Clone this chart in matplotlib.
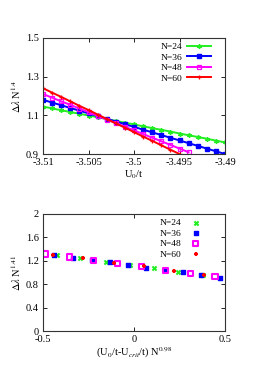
import matplotlib.pyplot as plt
import numpy as np

plt.rcParams['font.family'] = ['Liberation Serif', 'DejaVu Serif']
plt.rcParams['mathtext.fontset'] = 'stix'

# ---- top panel data: delta lambda * N^1.4 vs U0/t ----
u0 = [-3.510, -3.509, -3.508, -3.507, -3.506, -3.505, -3.504, -3.503, -3.502,
      -3.501, -3.500, -3.499, -3.498, -3.497, -3.496, -3.495, -3.494, -3.493,
      -3.492, -3.491, -3.490]
top_n24 = [1.145, 1.136, 1.126, 1.117, 1.108, 1.099, 1.090, 1.080, 1.071, 1.062,
           1.053, 1.043, 1.034, 1.025, 1.016, 1.006, 0.997, 0.988, 0.979, 0.969, 0.960]
top_n36 = [1.180, 1.166, 1.152, 1.138, 1.124, 1.110, 1.096, 1.082, 1.068, 1.054,
           1.040, 1.026, 1.012, 0.998, 0.984, 0.970, 0.956, 0.942, 0.928, 0.914, 0.900]
top_n48 = [1.210, 1.191, 1.172, 1.154, 1.135, 1.116, 1.097, 1.078, 1.060, 1.041,
           1.022, 1.003, 0.984, 0.966, 0.947, 0.928, 0.909]
top_n60 = [1.240, 1.217, 1.195, 1.172, 1.149, 1.127, 1.104, 1.081, 1.058, 1.036,
           1.013, 0.990, 0.968, 0.945, 0.922, 0.900]

# ---- bottom panel data: scaling collapse ----
x24 = [-0.425, -0.297, -0.154, -0.022, 0.110, 0.244, 0.381]
y24 = [1.29, 1.24, 1.18, 1.126, 1.07, 1.006, 0.949]
x36 = [-0.44, -0.335, -0.23, -0.13, -0.035, 0.065, 0.17, 0.27, 0.37, 0.47]
y36 = [1.29, 1.255, 1.215, 1.175, 1.13, 1.085, 1.04, 1.0, 0.955, 0.91]
x48 = [-0.485, -0.355, -0.223, -0.092, 0.042, 0.174, 0.31, 0.445]
y48 = [1.314, 1.263, 1.211, 1.149, 1.097, 1.04, 0.983, 0.926]
x60 = [-0.443, -0.278, -0.11, 0.055, 0.22, 0.385]
y60 = [1.297, 1.24, 1.166, 1.103, 1.023, 0.954]

labels = ['N=24', 'N=36', 'N=48', 'N=60']
colors = ['#22ee22', '#0000ff', '#ff00ff', '#ff0000']

fig = plt.figure(figsize=(2.66, 3.72), dpi=100)
ax1 = fig.add_axes([0.162, 0.586, 0.684, 0.312])
ax2 = fig.add_axes([0.162, 0.110, 0.684, 0.315])

fs = 7.5

# top
star = (6, 2, 0)
ax1.plot(u0, top_n24, color=colors[0], lw=1.4, marker=star, ms=3.2, mew=1.0, label=labels[0])
ax1.plot(u0[:len(top_n36)], top_n36, color=colors[1], lw=1.4, marker='s', ms=2.6, label=labels[1])
ax1.plot(u0[:len(top_n48)], top_n48, color=colors[2], lw=1.4, marker='s', ms=3.4,
         mfc='none', mew=0.9, label=labels[2])
ax1.plot(u0[:len(top_n60)], top_n60, color=colors[3], lw=1.4, marker='+', ms=3.0, mew=0.9, label=labels[3])
ax1.set_xlim(-3.51, -3.49)
ax1.set_ylim(0.9, 1.5)
ax1.set_xticks([-3.51, -3.505, -3.5, -3.495, -3.49])
ax1.set_xticklabels(['-3.51', '-3.505', '-3.5', '-3.495', '-3.49'])
ax1.set_yticks([0.9, 1.1, 1.3, 1.5])
ax1.set_xlabel(r'U$_0$/t', fontsize=fs, labelpad=1)
ax1.set_ylabel(r'$\Delta\lambda$ N$^{1.4}$', fontsize=fs, labelpad=2)
ax1.legend(loc='upper right', frameon=False, fontsize=6.8, markerfirst=False,
           handlelength=2.6, handletextpad=0.5, labelspacing=0.2,
           borderaxespad=0.3, borderpad=0.2, bbox_to_anchor=(0.95, 1.0))

# bottom
ax2.scatter(x24, y24, color=colors[0], marker='x', s=9, linewidths=1.5, label=labels[0])
ax2.scatter(x36, y36, color=colors[1], marker='s', s=10, label=labels[1])
ax2.scatter(x48, y48, facecolor='none', edgecolor=colors[2], marker='s', s=14,
            linewidths=1.5, label=labels[2])
ax2.scatter(x60, y60, color=colors[3], marker='+', s=12, linewidths=1.6, label=labels[3])
ax2.set_xlim(-0.5, 0.5)
ax2.set_ylim(0, 2)
ax2.set_xticks([-0.5, 0, 0.5])
ax2.set_xticklabels(['-0.5', '0', '0.5'])
ax2.set_yticks([0, 0.4, 0.8, 1.2, 1.6, 2])
ax2.set_yticklabels(['0', '0.4', '0.8', '1.2', '1.6', '2'])
ax2.set_xlabel(r'(U$_0$/t-U$_{crit}$/t) N$^{0.98}$', fontsize=fs, labelpad=1)
ax2.set_ylabel(r'$\Delta\lambda$ N$^{1.41}$', fontsize=fs, labelpad=2)
ax2.legend(loc='upper right', frameon=False, fontsize=6.8, markerfirst=False,
           handlelength=1.0, handletextpad=1.0, labelspacing=0.2,
           borderaxespad=0.3, borderpad=0.2, scatterpoints=1,
           bbox_to_anchor=(0.89, 1.0))

for ax in (ax1, ax2):
    ax.tick_params(direction='in', top=True, right=True, labelsize=fs,
                   length=3, width=0.6, pad=3)
    for sp in ax.spines.values():
        sp.set_linewidth(0.8)
        sp.set_color('#333333')

fig.savefig('out.png', dpi=100)
